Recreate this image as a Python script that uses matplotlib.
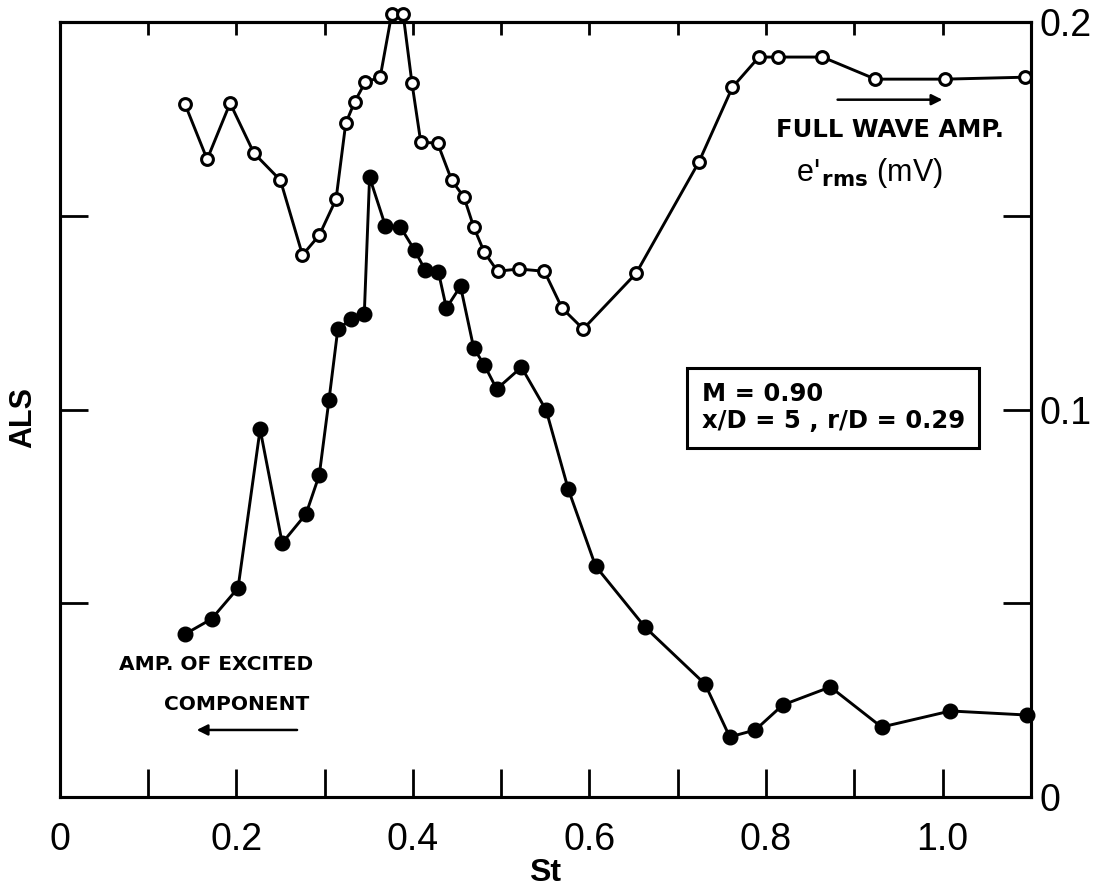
import matplotlib.pyplot as plt

plt.rcParams['font.family'] = ['Liberation Sans', 'DejaVu Sans']

# full wave amplitude e'rms (mV), open circles, right axis
st_full = [0.142, 0.167, 0.193, 0.220, 0.250, 0.275, 0.294, 0.313, 0.324, 0.334,
           0.346, 0.363, 0.376, 0.389, 0.399, 0.409, 0.428, 0.444, 0.458, 0.469,
           0.481, 0.496, 0.520, 0.549, 0.569, 0.593, 0.653, 0.724, 0.762, 0.792,
           0.814, 0.864, 0.924, 1.003, 1.093]
erms = [0.1788, 0.1646, 0.1791, 0.1662, 0.1592, 0.1399, 0.1450, 0.1543, 0.1739, 0.1794,
        0.1845, 0.1858, 0.2021, 0.2021, 0.1843, 0.1690, 0.1688, 0.1592, 0.1548, 0.1471,
        0.1406, 0.1357, 0.1363, 0.1357, 0.1262, 0.1208, 0.1352, 0.1639, 0.1832, 0.1910,
        0.1910, 0.1910, 0.1853, 0.1853, 0.1858]

# amplitude of excited component (ALS, arbitrary units), filled circles, left axis
st_exc = [0.142, 0.172, 0.202, 0.227, 0.252, 0.279, 0.294, 0.305, 0.315, 0.330,
          0.345, 0.351, 0.369, 0.386, 0.402, 0.414, 0.429, 0.438, 0.454, 0.469,
          0.481, 0.495, 0.523, 0.551, 0.576, 0.607, 0.663, 0.731, 0.759, 0.788,
          0.819, 0.873, 0.931, 1.009, 1.096]
als = [0.841, 0.919, 1.079, 1.899, 1.311, 1.461, 1.662, 2.049, 2.415, 2.467,
       2.493, 3.200, 2.947, 2.942, 2.823, 2.720, 2.710, 2.524, 2.637, 2.317,
       2.230, 2.106, 2.219, 1.997, 1.590, 1.192, 0.877, 0.583, 0.310, 0.346,
       0.475, 0.568, 0.361, 0.444, 0.423]

x_ticks = [0, 0.1, 0.2, 0.3, 0.4, 0.5, 0.6, 0.7, 0.8, 0.9, 1.0]
x_labels = ['0', '', '0.2', '', '0.4', '', '0.6', '', '0.8', '', '1.0']
r_ticks = [0, 0.05, 0.1, 0.15, 0.2]
r_labels = ['0', '', '0.1', '', '0.2']

fig = plt.figure(figsize=(11.06, 8.88), dpi=100)
ax = fig.add_axes([0.054, 0.1025, 0.878, 0.8725])
ax2 = ax.twinx()

ax.plot(st_exc, als, color='black', linewidth=2.1, marker='o', markersize=10.5,
        markerfacecolor='black', markeredgecolor='black', clip_on=False, zorder=3)
ax2.plot(st_full, erms, color='black', linewidth=2.1, marker='o', markersize=8.5,
         markerfacecolor='white', markeredgecolor='black', markeredgewidth=2.2,
         clip_on=False, zorder=3)

ax.set_xlim(0, 1.1)
ax.set_ylim(0, 4)
ax2.set_ylim(0, 0.2)

for s in ax.spines.values():
    s.set_linewidth(2.2)
for s in ax2.spines.values():
    s.set_linewidth(2.2)

ax.set_xticks(x_ticks)
ax.set_xticklabels(x_labels, fontsize=27)
ax.tick_params(axis='x', direction='in', length=20, width=2, pad=18)
ax.set_yticks([1, 2, 3])
ax.set_yticklabels([])
ax.tick_params(axis='y', direction='in', length=20, width=2)

top = ax.secondary_xaxis('top')
top.set_xticks(x_ticks[1:])
top.set_xticklabels([])
top.tick_params(direction='in', length=9, width=2)
top.spines['top'].set_linewidth(2.2)

ax2.set_yticks(r_ticks)
ax2.set_yticklabels(r_labels, fontsize=27)
ax2.tick_params(axis='y', direction='in', length=20, width=2, pad=6)

ax.set_xlabel('St', fontsize=23, fontweight='bold', labelpad=0)
ax.set_ylabel('ALS', fontsize=22, fontweight='bold')
ax.yaxis.set_label_coords(-0.022, 0.49)

# annotations
ax2.annotate('', xy=(1.003, 0.1800), xytext=(0.878, 0.1800),
             arrowprops=dict(arrowstyle='-|>', color='black', lw=1.8,
                             mutation_scale=16))
ax2.text(0.940, 0.1722, 'FULL WAVE AMP.', fontsize=17.5, fontweight='bold',
         family=['DejaVu Sans'], ha='center', va='center')
ax2.text(0.917, 0.1610, r"e$'_{\mathbf{rms}}$ (mV)", fontsize=22,
         ha='center', va='center')

ax2.text(0.727, 0.1005, 'M = 0.90\nx/D = 5 , r/D = 0.29', fontsize=17.5,
         fontweight='bold', family=['DejaVu Sans'], ha='left', va='center',
         linespacing=1.15,
         bbox=dict(boxstyle='square,pad=0.6', facecolor='white',
                   edgecolor='black', linewidth=2.2))

ax.text(0.177, 0.686, 'AMP. OF EXCITED', fontsize=14.5, fontweight='bold',
        family=['DejaVu Sans'], ha='center', va='center')
ax.text(0.200, 0.475, 'COMPONENT', fontsize=14.5, fontweight='bold',
        family=['DejaVu Sans'], ha='center', va='center')
ax.annotate('', xy=(0.152, 0.346), xytext=(0.272, 0.346),
            arrowprops=dict(arrowstyle='-|>', color='black', lw=1.8,
                            mutation_scale=16))

fig.savefig('out.png', dpi=100, facecolor='white')
